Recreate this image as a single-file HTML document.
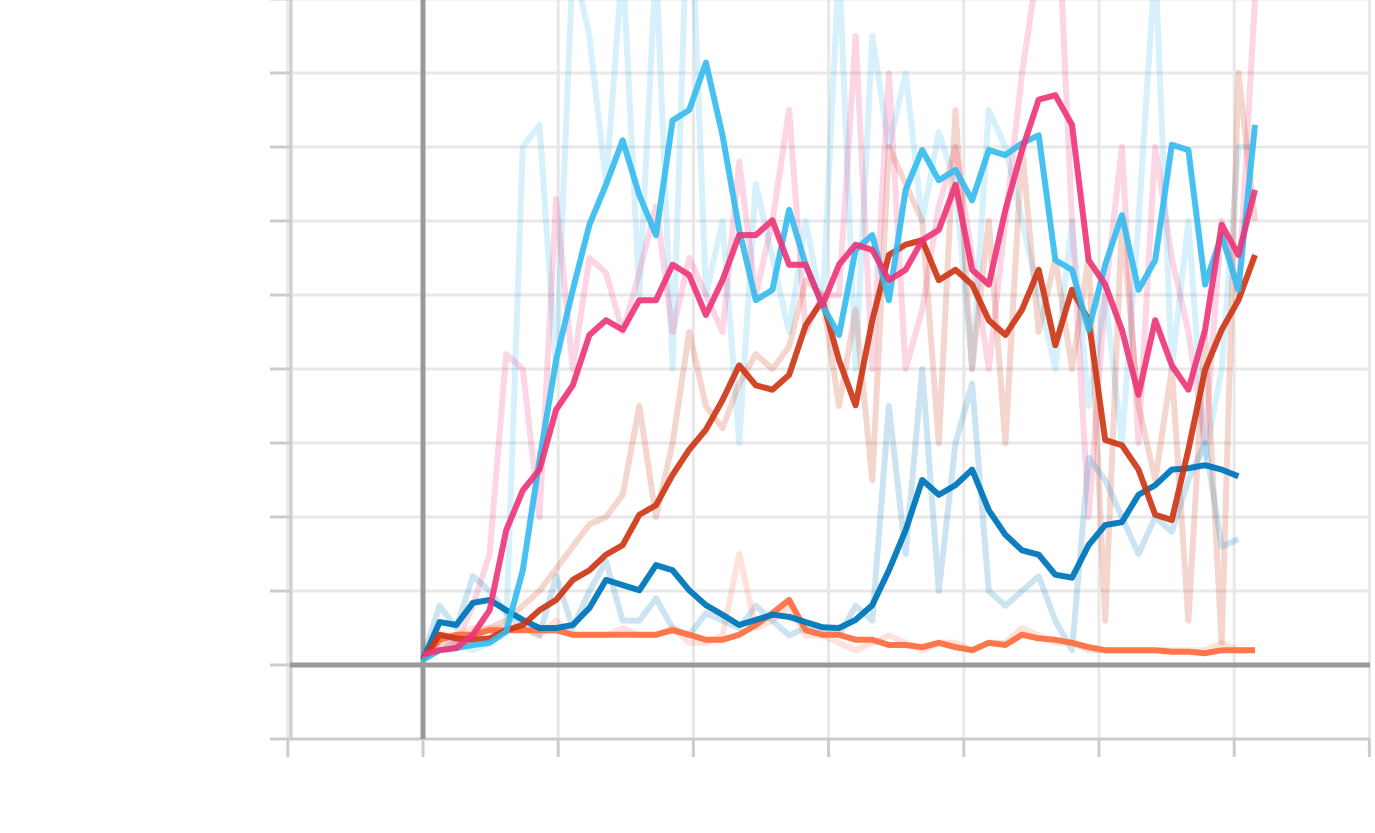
<!DOCTYPE html>
<html><head><meta charset="utf-8"><style>
html,body{margin:0;padding:0;background:#fff;}
svg{display:block;}
</style></head><body>
<svg id="chart" width="1375" height="833" viewBox="0 0 1375 833" xmlns="http://www.w3.org/2000/svg"></svg>
<script>
// x: step index; y: value (gridline = 10 units)
const steps = Array.from({length:51},(_,i)=>i);
const skySmooth=[0.7,2,2.3,2.7,3,4.5,12.8,27.7,41.2,50.7,59.5,64.9,70.9,63.5,58.1,73.6,75,81.4,71.6,58.8,49.3,50.7,61.5,54.1,48.6,44.6,56.1,58.1,49.3,64.2,69.6,65.5,66.9,62.8,69.6,68.9,70.5,71.6,54.7,53.4,45.3,54.1,60.8,50.7,54.7,70.3,69.6,51.4,58.1,50.7,73];
const crimsonSmooth=[1.4,2,2.3,4.1,7.4,18.2,23.6,26.4,34.5,37.8,44.6,46.6,45.3,49.3,49.3,54.1,52.7,47.3,52,58.1,58.1,60.1,54.1,54.1,48.6,54.1,56.8,56.1,52,53.4,57.4,58.8,64.9,53.4,51.4,61.5,69.6,76.4,77,73,54.7,51.4,45.3,36.5,46.6,40.5,37.2,45.3,59.5,55.4,64.2];
const redSmooth=[0.7,4.1,3.6,3.4,3.6,4.7,5.4,7.4,8.8,11.5,12.8,14.9,16.2,20.3,21.6,25.7,29.1,31.8,35.8,40.5,37.8,37.2,39.2,45.9,49.3,41.2,35.1,46.6,55.4,56.8,57.4,52,53.4,51.4,46.6,44.6,48,53.4,43.2,50.7,46.6,30.4,29.7,26.4,20.3,19.6,29.1,39.9,45.3,49.3,55.4];
const blueSmooth=[0.7,5.8,5.4,8.4,8.8,7.4,6.1,5,5,5.4,7.7,11.5,10.8,10.1,13.5,12.8,10.1,8.1,6.8,5.4,6.1,6.8,6.5,5.8,5.1,5,6.1,8.1,12.8,18.2,25,23,24.3,26.4,20.9,17.6,15.5,14.9,12.2,11.8,16.2,18.9,19.3,23,24.3,26.4,26.6,27,26.4,25.5];
const orangeSmooth=[0.7,3.4,4.1,4.1,4.7,4.7,4.7,4.7,4.7,4.1,4.1,4.1,4.1,4.1,4.1,4.7,4.1,3.4,3.4,4.1,5.4,7,8.8,4.7,4.1,4.1,3.4,3.4,2.7,2.7,2.4,3,2.4,2,3,2.7,4.1,3.6,3.4,3,2.4,2,2,2,2,1.8,1.8,1.6,2,2,2];
const skyRaw=[0.7,4,3,2,3,5,70,73,40,95,85,65,95,50,95,40,110,50,60,30,65,55,45,60,48,95,40,85,70,80,60,72,65,40,75,70,60,50,40,60,35,50,30,60,95,40,60,28,40,70,70];
const crimsonRaw=[1,2,3,8,15,42,40,20,63,40,55,53,45,53,62,45,55,50,45,68,50,60,75,45,50,50,85,40,80,40,48,62,70,55,40,60,80,95,110,60,20,50,70,30,70,55,45,30,60,50,90];
const redRaw=[1,3,3,4,5,6,8,10,13,16,19,20,23,35,20,30,45,35,32,38,42,40,43,52,50,35,48,25,70,65,60,30,75,40,60,30,70,45,55,40,55,6,60,35,25,40,6,45,3,80,60];
const blueRaw=[1,8,5,12,10,7,5,4,12,5,10,14,6,6,9,5,4,7,6,5,8,6,4,5,5,4,8,6,35,15,40,10,30,38,10,8,10,12,6,2,28,25,20,15,20,18,25,30,16,17];
const orangeRaw=[0.7,4,4,5,5,5,5,4,6,4,4,4,5,4,4,5,3,3,4,15,5,6,8,4,4,3,2,3,4,3,2,3,3,2,3,3,5,4,3,3,2,2,2,2,2,2,2,2,3,2,2];
const xTicks=[-8.125,0,8.125,16.25,24.375,32.5,40.625,48.75,56.875];
const yTicks=[-10,0,10,20,30,40,50,60,70,80,90];

const svg=document.getElementById('chart');
const NS='http://www.w3.org/2000/svg';
const xs=v=>423+v*16.64;
const ys=v=>665-v*7.4;
function mk(tag,attrs){const e=document.createElementNS(NS,tag);for(const k in attrs)e.setAttribute(k,attrs[k]);svg.appendChild(e);return e;}

xTicks.forEach(t=>{
  const x=xs(t);
  const g=mk('line',{x1:x,y1:0,x2:x,y2:739,stroke:'#e8e8e8','stroke-width':3});
  
  
  const tk=mk('line',{x1:x,y1:739,x2:x,y2:757,stroke:'#cccccc','stroke-width':3});
  
  
});
yTicks.forEach(t=>{
  const y=ys(t);
  const g=mk('line',{x1:290,y1:y,x2:1370,y2:y,stroke:'#e8e8e8','stroke-width':3});
  
  
  const tk=mk('line',{x1:270,y1:y,x2:290,y2:y,stroke:'#cccccc','stroke-width':3});
  
  
});
const ls=mk('line',{x1:291,y1:0,x2:291,y2:740,stroke:'#cccccc','stroke-width':3});


const bs=mk('line',{x1:290,y1:739,x2:1370,y2:739,stroke:'#cccccc','stroke-width':3});


const zy=mk('line',{x1:290,y1:ys(0),x2:1370,y2:ys(0),stroke:'#999999','stroke-width':5});


const zx=mk('line',{x1:xs(0),y1:0,x2:xs(0),y2:739,stroke:'#999999','stroke-width':5});



function line(vals,color,op,name){
  const d=vals.map((v,i)=>(i?'L':'M')+xs(steps[i]).toFixed(1)+' '+ys(v).toFixed(1)).join(' ');
  const p=mk('path',{d:d,fill:'none',stroke:color,'stroke-opacity':op,'stroke-width':6,'stroke-linejoin':'round'});
  
  
}
const C={sky:'#33bbee',crimson:'#ee3377',red:'#cc3311',blue:'#0077bb',orange:'#ff7043'};
line(skyRaw,C.sky,0.2,'sky-raw-line');
line(crimsonRaw,C.crimson,0.2,'crimson-raw-line');
line(redRaw,C.red,0.2,'red-raw-line');
line(blueRaw,C.blue,0.2,'blue-raw-line');
line(orangeRaw,C.orange,0.2,'orange-raw-line');
line(orangeSmooth,C.orange,0.95,'orange-smoothed-line');
line(blueSmooth,C.blue,0.95,'blue-smoothed-line');
line(redSmooth,C.red,0.9,'red-smoothed-line');
line(skySmooth,C.sky,0.9,'sky-smoothed-line');
line(crimsonSmooth,C.crimson,0.9,'crimson-smoothed-line');
</script>
</body></html>
